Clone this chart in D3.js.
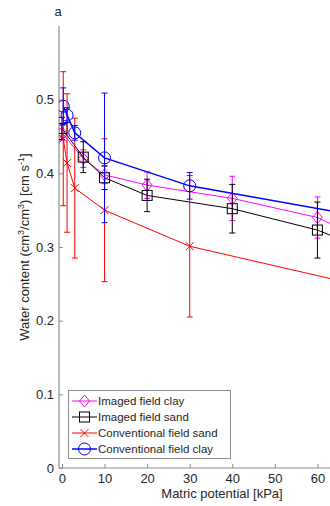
<!DOCTYPE html>
<html>
<head>
<meta charset="utf-8">
<script src="https://cdn.jsdelivr.net/npm/d3@7"></script>
<style>
  body { margin: 0; background: #fff; }
  svg { font-family: Arial, "Liberation Sans", sans-serif; }
</style>
</head>
<body>
<div id="chart"></div>
<script>
// dados
const xTicks = [0, 10, 20, 30, 40, 50, 60];
const yTicks = [0, 0.1, 0.2, 0.3, 0.4, 0.5];

const clayImgX = [0, 5, 10, 20, 40, 60, 80];
const clayImgY = [0.455, 0.420, 0.398, 0.384, 0.366, 0.340, 0.286];
const clayImgE = [0.010, 0.012, 0.012, 0.018, 0.030, 0.028, 0];

const sandImgX = [0, 5, 10, 20, 40, 60, 80];
const sandImgY = [0.461, 0.422, 0.394, 0.370, 0.352, 0.323, 0.277];
const sandImgE = [0.015, 0.021, 0.016, 0.022, 0.033, 0.038, 0];

const sandConvX = [0.3, 1.2, 3, 10, 30, 100];
const sandConvY = [0.447, 0.414, 0.380, 0.350, 0.301, 0.208];
const sandConvE = [0.091, 0.094, 0.095, 0.097, 0.096, 0];

const clayConvX = [0.3, 1.2, 3, 10, 30, 100];
const clayConvY = [0.491, 0.479, 0.455, 0.421, 0.383, 0.311];
const clayConvE = [0.025, 0.010, 0.010, 0.088, 0.018, 0];

const series = [
  { name: "Imaged field clay", color: "#ff00ff", marker: "diamond", x: clayImgX, y: clayImgY, e: clayImgE },
  { name: "Imaged field sand", color: "#000000", marker: "square", x: sandImgX, y: sandImgY, e: sandImgE },
  { name: "Conventional field sand", color: "#ff0000", marker: "cross", x: sandConvX, y: sandConvY, e: sandConvE },
  { name: "Conventional field clay", color: "#0000ff", marker: "circle", x: clayConvX, y: clayConvY, e: clayConvE }
];

const W = 330, H = 506;
const svg = d3.select("#chart").append("svg")
  .attr("width", W).attr("height", H);

const x = d3.scaleLinear().domain([-0.7, 70]).range([59, 360]);
const y = d3.scaleLinear().domain([0, 0.6]).range([468, 26]);

const axisColor = "#8c8c8c";

// Eixos
const gx = svg.append("g").attr("transform", `translate(0,${y(0)})`)
  .call(d3.axisBottom(x).tickValues(xTicks).tickSize(-4).tickPadding(6).tickFormat(d3.format("d")));
const gy = svg.append("g").attr("transform", `translate(${x(-0.7)},0)`)
  .call(d3.axisLeft(y).tickValues(yTicks).tickSize(-4).tickPadding(5)
    .tickFormat(d => d === 0 ? "0" : d3.format(".1f")(d)));
[gx, gy].forEach(g => {
  g.select(".domain").attr("stroke", axisColor).attr("stroke-width", 1.2);
  g.selectAll(".tick line").attr("stroke", axisColor);
  g.selectAll(".tick text").attr("fill", "#262626").style("font-size", "13px");
});
gx.select(".domain").attr("d", `M${x(-0.7)},0H${W}`);
gy.select(".domain").attr("d", `M0,${y(0)}V${y(0.6)}`);

svg.append("text").attr("x", 58).attr("y", 16).attr("text-anchor", "middle")
  .style("font-size", "13px").attr("fill", "#262626").text("a");

svg.append("text").attr("x", 222).attr("y", 498).attr("text-anchor", "middle")
  .style("font-size", "13px").attr("fill", "#262626").text("Matric potential [kPa]");

const yl = svg.append("text")
  .attr("transform", "translate(29,247) rotate(-90)")
  .attr("text-anchor", "middle")
  .style("font-size", "13px").attr("fill", "#262626");
yl.append("tspan").text("Water content (cm");
yl.append("tspan").attr("dy", -5).style("font-size", "9px").text("3");
yl.append("tspan").attr("dy", 5).text("/cm");
yl.append("tspan").attr("dy", -5).style("font-size", "9px").text("3");
yl.append("tspan").attr("dy", 5).text(") [cm s");
yl.append("tspan").attr("dy", -5).style("font-size", "9px").text("-1");
yl.append("tspan").attr("dy", 5).text("]");

// Área de plotagem
svg.append("clipPath").attr("id", "clip").append("rect")
  .attr("x", x(-0.7)).attr("y", 0).attr("width", W).attr("height", y(0));
const plot = svg.append("g").attr("clip-path", "url(#clip)");

const line = d3.line().x(d => x(d[0])).y(d => y(d[1]));

function marker(g, type, color) {
  if (type === "diamond") {
    g.append("path").attr("d", "M0,-6L5,0L0,6L-5,0Z");
  } else if (type === "square") {
    g.append("rect").attr("x", -5).attr("y", -5).attr("width", 10).attr("height", 10);
  } else if (type === "circle") {
    g.append("circle").attr("r", 6);
  } else {
    g.append("path").attr("d", "M-4,-4L4,4M-4,4L4,-4");
  }
  g.selectAll("*").attr("fill", "none").attr("stroke", color).attr("stroke-width", 1);
}

series.forEach(s => {
  const pts = s.x.map((v, i) => [v, s.y[i], s.e[i]]);
  const g = plot.append("g");
  // barras de erro
  pts.filter(p => p[2] > 0).forEach(p => {
    const px = x(p[0]), y1 = y(p[1] + p[2]), y2 = y(p[1] - p[2]);
    g.append("path")
      .attr("d", `M${px},${y1}V${y2}M${px - 3},${y1}H${px + 3}M${px - 3},${y2}H${px + 3}`)
      .attr("stroke", s.color).attr("fill", "none").attr("stroke-width", 1);
  });
  g.append("path").datum(pts).attr("d", line)
    .attr("fill", "none").attr("stroke", s.color)
    .attr("stroke-width", s.marker === "circle" ? 1.5 : 1);
  pts.filter(p => p[2] > 0).forEach(p => {
    marker(g.append("g").attr("transform", `translate(${x(p[0])},${y(p[1])})`), s.marker, s.color);
  });
});

// Legenda
const leg = svg.append("g");
leg.append("rect").attr("x", 68.5).attr("y", 390.5).attr("width", 162).attr("height", 68)
  .attr("fill", "#fff").attr("stroke", "#8c8c8c");
series.forEach((s, i) => {
  const ly = 401 + i * 16;
  const it = leg.append("g");
  it.append("line").attr("x1", 72).attr("x2", 97).attr("y1", ly).attr("y2", ly)
    .attr("stroke", s.color).attr("stroke-width", s.marker === "circle" ? 1.5 : 1);
  marker(it.append("g").attr("transform", `translate(84.5,${ly})`), s.marker, s.color);
  it.append("text").attr("x", 98).attr("y", ly).attr("dy", "0.35em")
    .style("font-size", "11.5px").attr("fill", "#262626").text(s.name);
});
</script>
</body>
</html>
